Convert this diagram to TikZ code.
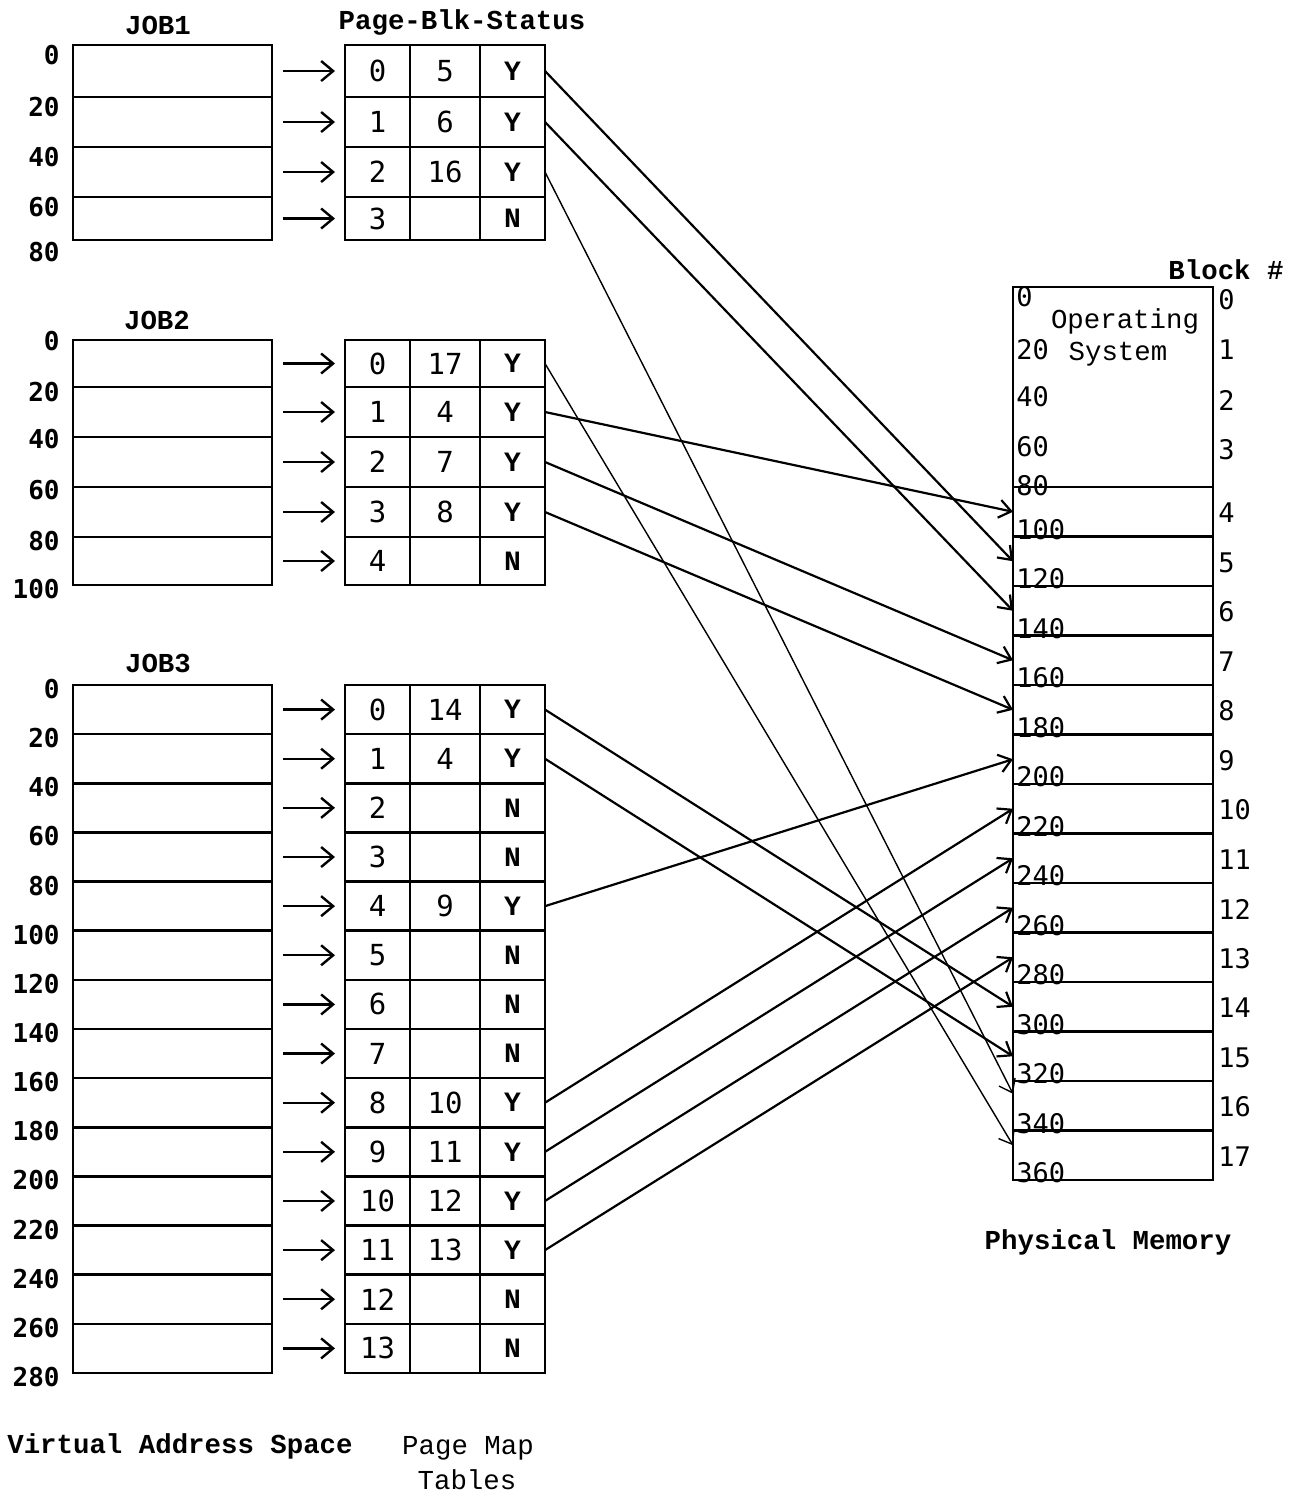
\documentclass[tikz,border=0pt]{standalone}
\usepackage{fontspec}
\setmainfont{Liberation Mono}
\newfontfamily\gothic{DejaVu Sans Mono}
\usetikzlibrary{arrows.meta,calc}
\begin{document}
\begin{tikzpicture}[x=0.5pt,y=-0.5pt,
  box/.style={draw, line width=1.3pt, inner sep=0pt, outer sep=0pt, anchor=north west},
  vcell/.style={box, minimum width=99.5pt},
  pa/.style={box, minimum width=32.5pt, font=\gothic\fontsize{14.5pt}{16pt}\selectfont},
  pb/.style={box, minimum width=35pt, font=\gothic\fontsize{14.5pt}{16pt}\selectfont},
  pc/.style={box, minimum width=32.5pt, font=\fontsize{14pt}{16pt}\selectfont\bfseries},
  head/.style={font=\fontsize{13.7pt}{16pt}\selectfont\bfseries, inner sep=0pt},
  plain/.style={font=\fontsize{13.7pt}{16pt}\selectfont, inner sep=0pt},
  vlab/.style={anchor=east, inner sep=0pt, font=\gothic\fontsize{13pt}{15pt}\selectfont\bfseries},
  mlab/.style={anchor=west, inner sep=0pt, font=\gothic\fontsize{13.5pt}{15pt}\selectfont},
  sarrow/.style={line width=1.2pt, -{Straight Barb[length=6pt,width=10pt]}, shorten <=5.5pt, shorten >=5pt},
  marrow/.style={line width=1.1pt, -{Straight Barb[length=6pt,width=9pt]}},
  tarrow/.style={marrow, line width=0.7pt},
]
\useasboundingbox (0,0) rectangle (1300,1496);

% ---------- JOB 1 ----------
\node[head] (job1) at (158,25) {JOB1};
\node[head] (pbs) at (462,22) {Page-Blk-Status};
\foreach \i/\t/\h/\b/\s in {0/45/26/5/Y, 1/97/25/6/Y, 2/147/25/16/Y, 3/197/21.5//N} {
  \node[vcell, minimum height=\h pt] (v1-\i) at (73,\t) {};
  \node[pa, minimum height=\h pt] (pa1-\i) at (345,\t) {\i};
  \node[pb, minimum height=\h pt] (pb1-\i) at (410,\t) {\b};
  \node[pc, minimum height=\h pt] (pc1-\i) at (480,\t) {\s};
  \draw[sarrow] (v1-\i) -- (pa1-\i);
}
\foreach \v/\y in {0/55,20/107,40/157,60/207,80/252}
  \node[vlab] (l1-\v) at (60,\y) {\v};

% ---------- JOB 2 ----------
\node[head] (job2) at (157,320) {JOB2};
\foreach \i/\t/\h/\b/\s in {0/340/23.5/17/Y, 1/387/25/4/Y, 2/437/25/7/Y, 3/487/25/8/Y, 4/537/24//N} {
  \node[vcell, minimum height=\h pt] (v2-\i) at (73,\t) {};
  \node[pa, minimum height=\h pt] (pa2-\i) at (345,\t) {\i};
  \node[pb, minimum height=\h pt] (pb2-\i) at (410,\t) {\b};
  \node[pc, minimum height=\h pt] (pc2-\i) at (480,\t) {\s};
  \draw[sarrow] (v2-\i) -- (pa2-\i);
}
\foreach \v/\y in {0/341,20/392,40/439,60/490,80/541,100/589}
  \node[vlab] (l2-\v) at (60,\y) {\v};

% ---------- JOB 3 ----------
\node[head] (job3) at (158,663) {JOB3};
\foreach \i/\b/\s in {0/14/Y,1/4/Y,2//N,3//N,4/9/Y,5//N,6//N,7//N,8/10/Y,9/11/Y,10/12/Y,11/13/Y,12//N,13//N} {
  \pgfmathsetmacro\t{685+\i*49.14}
  \node[vcell, minimum height=24.57pt] (v3-\i) at (73,\t) {};
  \node[pa, minimum height=24.57pt] (pa3-\i) at (345,\t) {\i};
  \node[pb, minimum height=24.57pt] (pb3-\i) at (410,\t) {\b};
  \node[pc, minimum height=24.57pt] (pc3-\i) at (480,\t) {\s};
  \draw[sarrow] (v3-\i) -- (pa3-\i);
}
\foreach \i in {0,...,14} {
  \pgfmathsetmacro\y{689+\i*49.14}
  \pgfmathtruncatemacro\v{20*\i}
  \node[vlab] (l3-\i) at (60,\y) {\v};
}

% ---------- Physical memory ----------
\node[head] (blk) at (1226,270) {Block \#};
\node[box, minimum width=100pt, minimum height=100pt] (os) at (1013,287) {};
\foreach \k in {4,...,17} {
  \pgfmathsetmacro\t{487+(\k-4)*49.5}
  \node[box, minimum width=100pt, minimum height=24.75pt] (m\k) at (1013,\t) {};
}
\node[plain] (opA) at (1125,321) {Operating};
\node[plain] (opB) at (1118,354) {System};
\foreach \v/\y in {0/297,20/350,40/397,60/447,80/486}
  \node[mlab] (a\v) at (1016,\y) {\v};
\foreach \k in {5,...,18} {
  \pgfmathsetmacro\y{487+(\k-4)*49.5-7}
  \pgfmathtruncatemacro\v{20*\k}
  \node[mlab] (a\v) at (1016,\y) {\v};
}
\foreach \n/\y in {0/300,1/350,2/400,3/450}
  \node[mlab] (b\n) at (1218,\y) {\n};
\foreach \k in {4,...,17} {
  \pgfmathsetmacro\y{487+(\k-4)*49.5+26}
  \node[mlab] (b\k) at (1218,\y) {\k};
}
\node[head] (pm) at (1108,1242) {Physical Memory};

% ---------- captions ----------
\node[head] (vas) at (180,1446) {Virtual Address Space};
\node[plain] (pmt1) at (468,1448) {Page Map};
\node[plain] (pmt2) at (467,1480) {Tables};

% ---------- mapping arrows ----------
\draw[marrow] (pc1-0.east) -- (m5.west);
\draw[marrow] (pc1-1.east) -- (m6.west);
\draw[tarrow] (pc1-2.east) -- ($(m16.west)+(0,-12)$);
\draw[tarrow] (pc2-0.east) -- ($(m17.west)+(0,-10)$);
\draw[marrow] (pc2-1.east) -- (m4.west);
\draw[marrow] (pc2-2.east) -- (m7.west);
\draw[marrow] (pc2-3.east) -- (m8.west);
\draw[marrow] (pc3-0.east) -- (m14.west);
\draw[marrow] (pc3-1.east) -- (m15.west);
\draw[marrow] (pc3-4.east) -- (m9.west);
\draw[marrow] (pc3-8.east) -- (m10.west);
\draw[marrow] (pc3-9.east) -- (m11.west);
\draw[marrow] (pc3-10.east) -- (m12.west);
\draw[marrow] (pc3-11.east) -- (m13.west);
\end{tikzpicture}
\end{document}
